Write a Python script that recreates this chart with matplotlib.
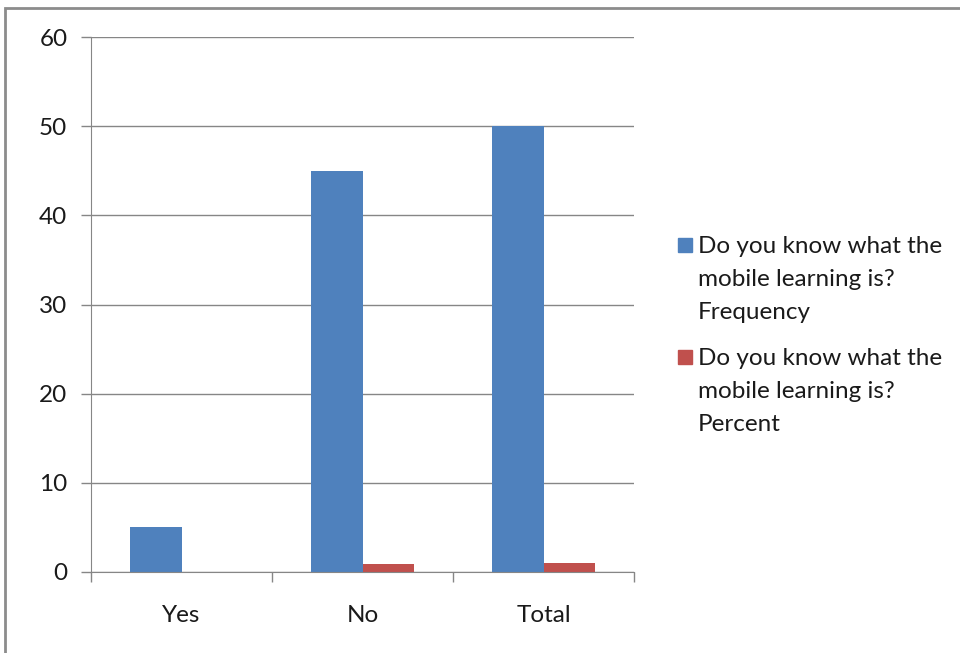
import numpy as np
import matplotlib.pyplot as plt
from matplotlib.patches import Rectangle

categories = ['Yes', 'No', 'Total']
frequency = [5, 45, 50]
percent = [0, 0.9, 1.0]
series_labels = ['Do you know what the\nmobile learning is?\nFrequency',
                 'Do you know what the\nmobile learning is?\nPercent']
colors = ['#4F81BD', '#C0504D']
yticks = [0, 10, 20, 30, 40, 50, 60]

plt.rcParams['font.family'] = ['Lato', 'DejaVu Sans']

W, H = 960, 653
fig = plt.figure(figsize=(W / 100, H / 100), dpi=100)
ax = fig.add_axes([91 / W, (H - 572) / H, 543 / W, 535 / H])

grid_c = '#868686'
txt_c = '#1a1a1a'
fs = 17.5
x = np.arange(len(categories))
bw = 1 / 3.5
ax.bar(x - bw / 2, frequency, bw, color=colors[0], zorder=2)
ax.bar(x + bw / 2, percent, bw, color=colors[1], zorder=2)

ax.set_xlim(-0.5, len(categories) - 0.5)
ax.set_ylim(0, 60)
ax.set_yticks(yticks)
ax.yaxis.grid(True, color=grid_c, linewidth=1)
ax.set_axisbelow(True)

# category labels sit between the boundary ticks
ax.set_xticks(np.arange(len(categories) + 1) - 0.5)
ax.set_xticklabels([])
ax.set_xticks(x, minor=True)
ax.set_xticklabels(categories, minor=True)
ax.tick_params(axis='x', which='minor', length=0, pad=24, labelsize=fs,
               labelcolor=txt_c)
ax.tick_params(axis='x', which='major', length=7, color=grid_c, width=1)
ax.tick_params(axis='y', length=7, color=grid_c, width=1, labelsize=fs,
               pad=10, labelcolor=txt_c)

for s in ['top', 'right']:
    ax.spines[s].set_visible(False)
for s in ['left', 'bottom']:
    ax.spines[s].set_color(grid_c)
    ax.spines[s].set_zorder(3)

# legend drawn by hand so the swatch lines up with the first text line
for i, (lab, c) in enumerate(zip(series_labels, colors)):
    ytop = 245 + i * 112
    fig.patches.append(Rectangle((678 / W, 1 - (ytop + 7) / H), 14 / W, 14 / H,
                                 transform=fig.transFigure, color=c))
    fig.text(698 / W, 1 - (ytop - 9) / H, lab, fontsize=fs, va='top',
             ha='left', linespacing=1.72, color=txt_c)

# outer frame of the chart area
fig.patches.append(Rectangle((5 / W, -0.1), 1.2, 1 - 8 / H + 0.1,
                             transform=fig.transFigure, fill=False,
                             edgecolor='#8c8c8c', linewidth=2))

fig.savefig('out.png', dpi=100)
